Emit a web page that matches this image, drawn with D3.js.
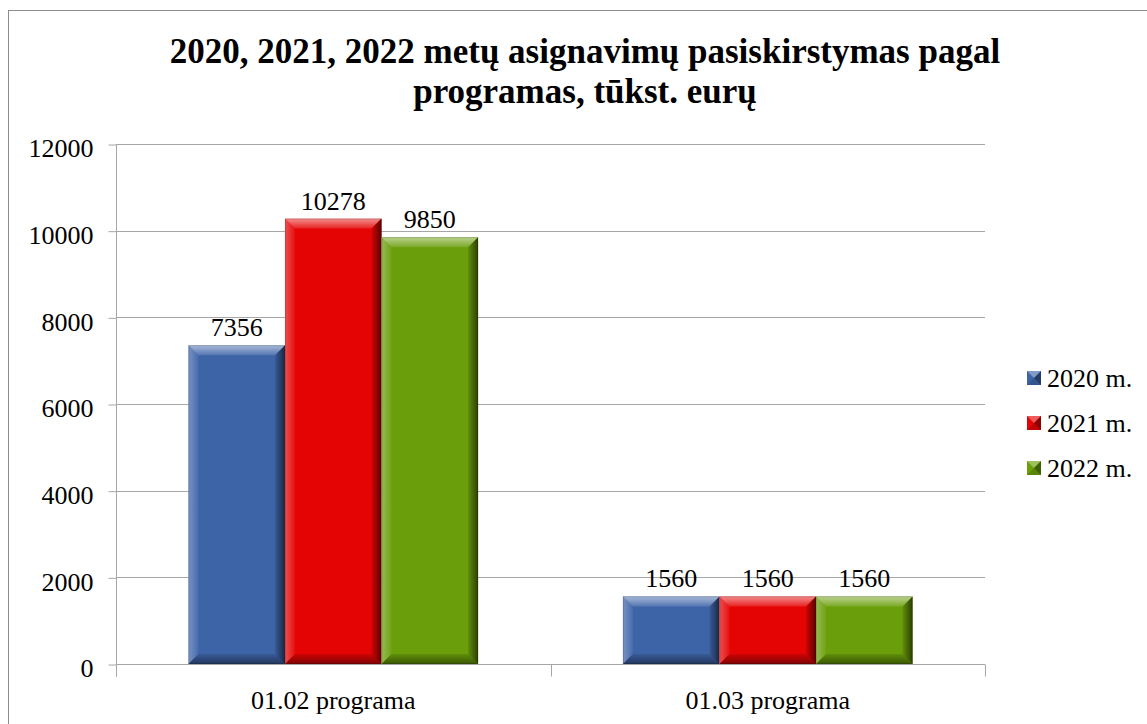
<!DOCTYPE html>
<html>
<head>
<meta charset="utf-8">
<script src="https://cdn.jsdelivr.net/npm/d3@7"></script>
<style>
  body { margin: 0; background: #fff; }
  svg text { font-family: "Liberation Serif", "Times New Roman", serif; fill: #000; }
</style>
</head>
<body>
<script>
// chart data
const categories = ["01.02 programa", "01.03 programa"];
const seriesNames = ["2020 m.", "2021 m.", "2022 m."];
const values2020 = [7356, 1560];
const values2021 = [10278, 1560];
const values2022 = [9850, 1560];
const yTicks = [0, 2000, 4000, 6000, 8000, 10000, 12000];
const colors = ["#3e64a8", "#e50404", "#6a9e0a"];

const W = 1147, H = 724;
const margin = { top: 144, right: 162, bottom: 60, left: 116 };

const svg = d3.select("body").append("svg")
    .attr("width", W)
    .attr("height", H);

// outer frame (right and bottom edges fall outside the picture)
svg.append("rect")
    .attr("x", 8.5).attr("y", 10.5)
    .attr("width", 1160).attr("height", 740)
    .attr("fill", "none").attr("stroke", "#8c8c8c");

// title
const title = svg.append("text")
    .attr("text-anchor", "middle")
    .style("font-weight", "bold")
    .style("font-size", "35px");
title.append("tspan").attr("x", 585).attr("y", 63)
    .text("2020, 2021, 2022 metų asignavimų pasiskirstymas pagal");
title.append("tspan").attr("x", 585).attr("y", 103)
    .text("programas, tūkst. eurų");

const x0 = d3.scaleBand()
    .domain(categories)
    .range([margin.left, W - margin.right]);

const bw = x0.bandwidth();
const barW = bw / 4.5; // gap width 150%
const x1 = d3.scaleBand()
    .domain(seriesNames)
    .range([(bw - 3 * barW) / 2, (bw - 3 * barW) / 2 + 3 * barW]);

const y = d3.scaleLinear()
    .domain([0, 12000])
    .range([H - margin.bottom, margin.top]);

// gridlines
svg.append("g")
    .selectAll("line")
    .data(yTicks.slice(1))
    .join("line")
    .attr("x1", margin.left).attr("x2", W - margin.right)
    .attr("y1", d => Math.round(y(d)) + 0.5).attr("y2", d => Math.round(y(d)) + 0.5)
    .attr("stroke", "#a6a6a6");

// y axis
const yAxis = svg.append("g")
    .attr("transform", "translate(" + (margin.left + 0.5) + ",0.5)")
    .call(d3.axisLeft(y).tickValues(yTicks).tickSize(8).tickPadding(15).tickFormat(d3.format("d")));
yAxis.select(".domain").attr("stroke", "#a6a6a6").attr("d", "M0," + y(12000) + "V" + (y(0) + 12));
yAxis.selectAll(".tick line").attr("stroke", "#a6a6a6");
yAxis.selectAll("text")
    .attr("dy", "0.48em")
    .style("font-size", "26px");

// x axis
const xAxis = svg.append("g")
    .attr("transform", "translate(0," + (Math.round(y(0)) + 0.5) + ")");
xAxis.append("line")
    .attr("x1", margin.left).attr("x2", W - margin.right)
    .attr("stroke", "#a6a6a6");
xAxis.selectAll(".sep")
    .data(categories.map(c => x0(c)).concat([x0(categories[1]) + bw]))
    .join("line")
    .attr("class", "sep")
    .attr("x1", d => Math.round(d) + 0.5).attr("x2", d => Math.round(d) + 0.5)
    .attr("y1", 0).attr("y2", 12)
    .attr("stroke", "#a6a6a6");
xAxis.selectAll(".cat")
    .data(categories)
    .join("text")
    .attr("class", "cat")
    .attr("x", d => x0(d) + bw / 2)
    .attr("y", 44)
    .attr("text-anchor", "middle")
    .style("font-size", "26px")
    .text(d => d);

// bar data
const allValues = [values2020, values2021, values2022];
const bars = [];
categories.forEach((c, ci) => {
    seriesNames.forEach((s, si) => {
        bars.push({ cat: c, series: s, value: allValues[si][ci], color: colors[si] });
    });
});

// bevel gradients
const defs = svg.append("defs");
function grad(id, x1_, y1_, x2_, y2_, c0, o0, c1, o1) {
    const g = defs.append("linearGradient").attr("id", id)
        .attr("x1", x1_).attr("y1", y1_).attr("x2", x2_).attr("y2", y2_);
    g.append("stop").attr("offset", "0%").attr("stop-color", c0).attr("stop-opacity", o0);
    g.append("stop").attr("offset", "100%").attr("stop-color", c1).attr("stop-opacity", o1);
}
grad("bvTop", 0, 0, 0, 1, "#fff", 0.55, "#fff", 0.12);
grad("bvLeft", 0, 0, 1, 0, "#fff", 0.3, "#fff", 0.05);
grad("bvRight", 0, 0, 1, 0, "#000", 0.1, "#000", 0.6);
grad("bvBottom", 0, 0, 0, 1, "#000", 0.1, "#000", 0.45);

const bev = 10;
const barG = svg.append("g");
barG.selectAll("g.bar")
    .data(bars)
    .join("g")
    .attr("class", "bar")
    .each(function (d) {
        const g = d3.select(this);
        const bx = x0(d.cat) + x1(d.series);
        const by = y(d.value);
        const bwd = x1.bandwidth();
        const bh = y(0) - by;
        const b = Math.min(bev, bh / 2);
        g.append("rect")
            .attr("x", bx).attr("y", by).attr("width", bwd).attr("height", bh)
            .attr("fill", d.color);
        const pts = (a) => a.map(p => p.join(",")).join(" ");
        g.append("polygon").attr("fill", "url(#bvTop)")
            .attr("points", pts([[bx, by], [bx + bwd, by], [bx + bwd - b, by + b], [bx + b, by + b]]));
        g.append("polygon").attr("fill", "url(#bvLeft)")
            .attr("points", pts([[bx, by], [bx + b, by + b], [bx + b, by + bh - b], [bx, by + bh]]));
        g.append("polygon").attr("fill", "url(#bvRight)")
            .attr("points", pts([[bx + bwd, by], [bx + bwd, by + bh], [bx + bwd - b, by + bh - b], [bx + bwd - b, by + b]]));
        g.append("polygon").attr("fill", "url(#bvBottom)")
            .attr("points", pts([[bx, by + bh], [bx + b, by + bh - b], [bx + bwd - b, by + bh - b], [bx + bwd, by + bh]]));
        g.append("rect")
            .attr("x", bx + 0.5).attr("y", by + 0.5).attr("width", bwd - 1).attr("height", bh - 1)
            .attr("fill", "none").attr("stroke", "#000").attr("stroke-opacity", 0.15);
    });

// data labels
barG.selectAll("text.lbl")
    .data(bars)
    .join("text")
    .attr("class", "lbl")
    .attr("x", d => x0(d.cat) + x1(d.series) + x1.bandwidth() / 2)
    .attr("y", d => y(d.value) - 9)
    .attr("text-anchor", "middle")
    .style("font-size", "26px")
    .text(d => d.value);

// legend
const legend = svg.append("g").attr("transform", "translate(1027,371)");
const li = legend.selectAll("g")
    .data(seriesNames)
    .join("g")
    .attr("transform", (d, i) => "translate(0," + i * 45 + ")");
li.append("rect")
    .attr("width", 14).attr("height", 14)
    .attr("fill", (d, i) => colors[i]);
li.append("polygon")
    .attr("points", "0,0 14,0 7,7")
    .attr("fill", "#fff").attr("fill-opacity", 0.35);
li.append("polygon")
    .attr("points", "14,0 14,14 7,7")
    .attr("fill", "#000").attr("fill-opacity", 0.4);
li.append("polygon")
    .attr("points", "0,14 14,14 7,7")
    .attr("fill", "#000").attr("fill-opacity", 0.15);
li.append("text")
    .attr("x", 20).attr("y", 7)
    .attr("dy", "0.35em")
    .style("font-size", "26px")
    .text(d => d);
</script>
</body>
</html>
